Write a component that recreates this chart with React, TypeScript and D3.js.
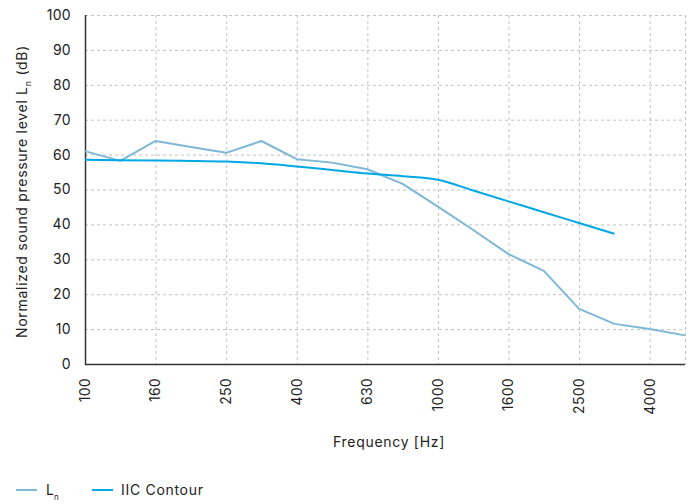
import React, { useEffect, useRef } from 'react';
import * as d3 from 'd3';

const frequencies = ['100', '125', '160', '200', '250', '315', '400', '500', '630', '800', '1000', '1250', '1600', '2000', '2500', '3150', '4000', '5000'];
const tickLabels = ['100', '160', '250', '400', '630', '1000', '1600', '2500', '4000'];
const lnValues = [61.0, 58.2, 63.9, 62.2, 60.5, 63.9, 58.7, 57.7, 55.8, 51.6, 45.1, 38.4, 31.5, 26.7, 15.8, 11.5, 10.0, 8.2];
const iicFreqs = ['100', '125', '160', '200', '250', '315', '400', '500', '630', '800', '1000', '1250', '1600', '2000', '2500', '3150'];
const iicValues = [58.5, 58.4, 58.3, 58.2, 58.0, 57.5, 56.6, 55.6, 54.6, 53.8, 52.8, 49.7, 46.6, 43.5, 40.4, 37.3];
const yTicks = [0, 10, 20, 30, 40, 50, 60, 70, 80, 90, 100];

const LN_COLOR = '#7db8d6';
const IIC_COLOR = '#00a8e6';
const FONT = 'Inter, "Noto Sans", sans-serif';
const SPACING = 0.7;

export default function App() {
  const svgRef = useRef<SVGSVGElement>(null);

  useEffect(() => {
    if (!svgRef.current) return;
    const width = 692;
    const height = 504;
    const margin = { top: 15, right: 7, bottom: 140, left: 85 };

    const svg = d3.select(svgRef.current);
    svg.selectAll('*').remove();

    const x = d3.scalePoint<string>().domain(frequencies).range([margin.left, width - margin.right]);
    const y = d3.scaleLinear().domain([0, 100]).range([height - margin.bottom, margin.top]);

    // grid
    const grid = svg.append('g').attr('stroke', '#c2c2c2').attr('stroke-dasharray', '3,3').attr('stroke-width', 1);
    grid.selectAll('.hg')
      .data(yTicks.filter(d => d > 0))
      .enter().append('line')
      .attr('x1', margin.left).attr('x2', width - margin.right)
      .attr('y1', d => y(d) + 0.5).attr('y2', d => y(d) + 0.5);
    grid.selectAll('.vg')
      .data([...tickLabels.slice(1), '5000'])
      .enter().append('line')
      .attr('x1', d => x(d)! + 0.5).attr('x2', d => x(d)! + 0.5)
      .attr('y1', margin.top).attr('y2', y(0));

    // axes
    svg.append('line')
      .attr('x1', margin.left + 0.5).attr('x2', margin.left + 0.5)
      .attr('y1', margin.top).attr('y2', y(0) + 0.5)
      .attr('stroke', '#333').attr('stroke-width', 1.5);
    svg.append('line')
      .attr('x1', margin.left).attr('x2', width - margin.right)
      .attr('y1', y(0) + 0.5).attr('y2', y(0) + 0.5)
      .attr('stroke', '#333').attr('stroke-width', 1.5);

    svg.selectAll('.yt')
      .data(yTicks)
      .enter().append('text')
      .attr('x', margin.left - 14)
      .attr('y', d => y(d))
      .attr('dy', '0.35em')
      .attr('text-anchor', 'end')
      .attr('font-family', FONT)
      .attr('font-size', 14)
      .attr('letter-spacing', 0.3)
      .attr('fill', '#222')
      .text(d => d);

    svg.selectAll('.xt')
      .data(tickLabels)
      .enter().append('text')
      .attr('transform', d => `translate(${x(d)},${y(0) + 14}) rotate(-90)`)
      .attr('dy', '0.35em')
      .attr('text-anchor', 'end')
      .attr('font-family', FONT)
      .attr('font-size', 14)
      .attr('letter-spacing', 0.3)
      .attr('fill', '#222')
      .text(d => d);

    svg.append('text')
      .attr('x', (margin.left + width - margin.right) / 2 + 4)
      .attr('y', 447)
      .attr('text-anchor', 'middle')
      .attr('font-family', FONT)
      .attr('font-size', 14)
      .attr('letter-spacing', SPACING)
      .attr('fill', '#222')
      .text('Frequency [Hz]');

    const yl = svg.append('text')
      .attr('transform', `translate(27,${(margin.top + y(0)) / 2 + 2}) rotate(-90)`)
      .attr('text-anchor', 'middle')
      .attr('font-family', FONT)
      .attr('font-size', 14)
      .attr('letter-spacing', SPACING)
      .attr('fill', '#222');
    yl.append('tspan').text('Normalized sound pressure level L');
    yl.append('tspan').attr('font-size', 9).attr('dy', 4).text('n');
    yl.append('tspan').attr('dy', -4).text(' (dB)');

    // lines
    const line = d3.line<[string, number]>().x(d => x(d[0])!).y(d => y(d[1]));
    svg.append('path')
      .datum(frequencies.map((f, i) => [f, lnValues[i]] as [string, number]))
      .attr('fill', 'none').attr('stroke', LN_COLOR).attr('stroke-width', 2)
      .attr('stroke-linejoin', 'round')
      .attr('d', line);
    svg.append('path')
      .datum(iicFreqs.map((f, i) => [f, iicValues[i]] as [string, number]))
      .attr('fill', 'none').attr('stroke', IIC_COLOR).attr('stroke-width', 2)
      .attr('d', line.curve(d3.curveMonotoneX));

    // legend
    const legend = svg.append('g').attr('transform', 'translate(0,490)');
    legend.append('line').attr('x1', 16).attr('x2', 37).attr('stroke', LN_COLOR).attr('stroke-width', 2);
    const l1 = legend.append('text').attr('x', 46).attr('dy', '0.35em')
      .attr('font-family', FONT).attr('font-size', 14).attr('fill', '#222');
    l1.append('tspan').text('L');
    l1.append('tspan').attr('font-size', 8).attr('dy', 5).text('n');
    legend.append('line').attr('x1', 92).attr('x2', 113).attr('stroke', IIC_COLOR).attr('stroke-width', 2);
    legend.append('text').attr('x', 121).attr('dy', '0.35em')
      .attr('font-family', FONT).attr('font-size', 14).attr('letter-spacing', SPACING).attr('fill', '#222')
      .text('IIC Contour');
  }, []);

  return (
    <svg ref={svgRef} width={692} height={504}
      style={{ position: 'absolute', left: 0, top: 0, background: '#fff' }} />
  );
}
